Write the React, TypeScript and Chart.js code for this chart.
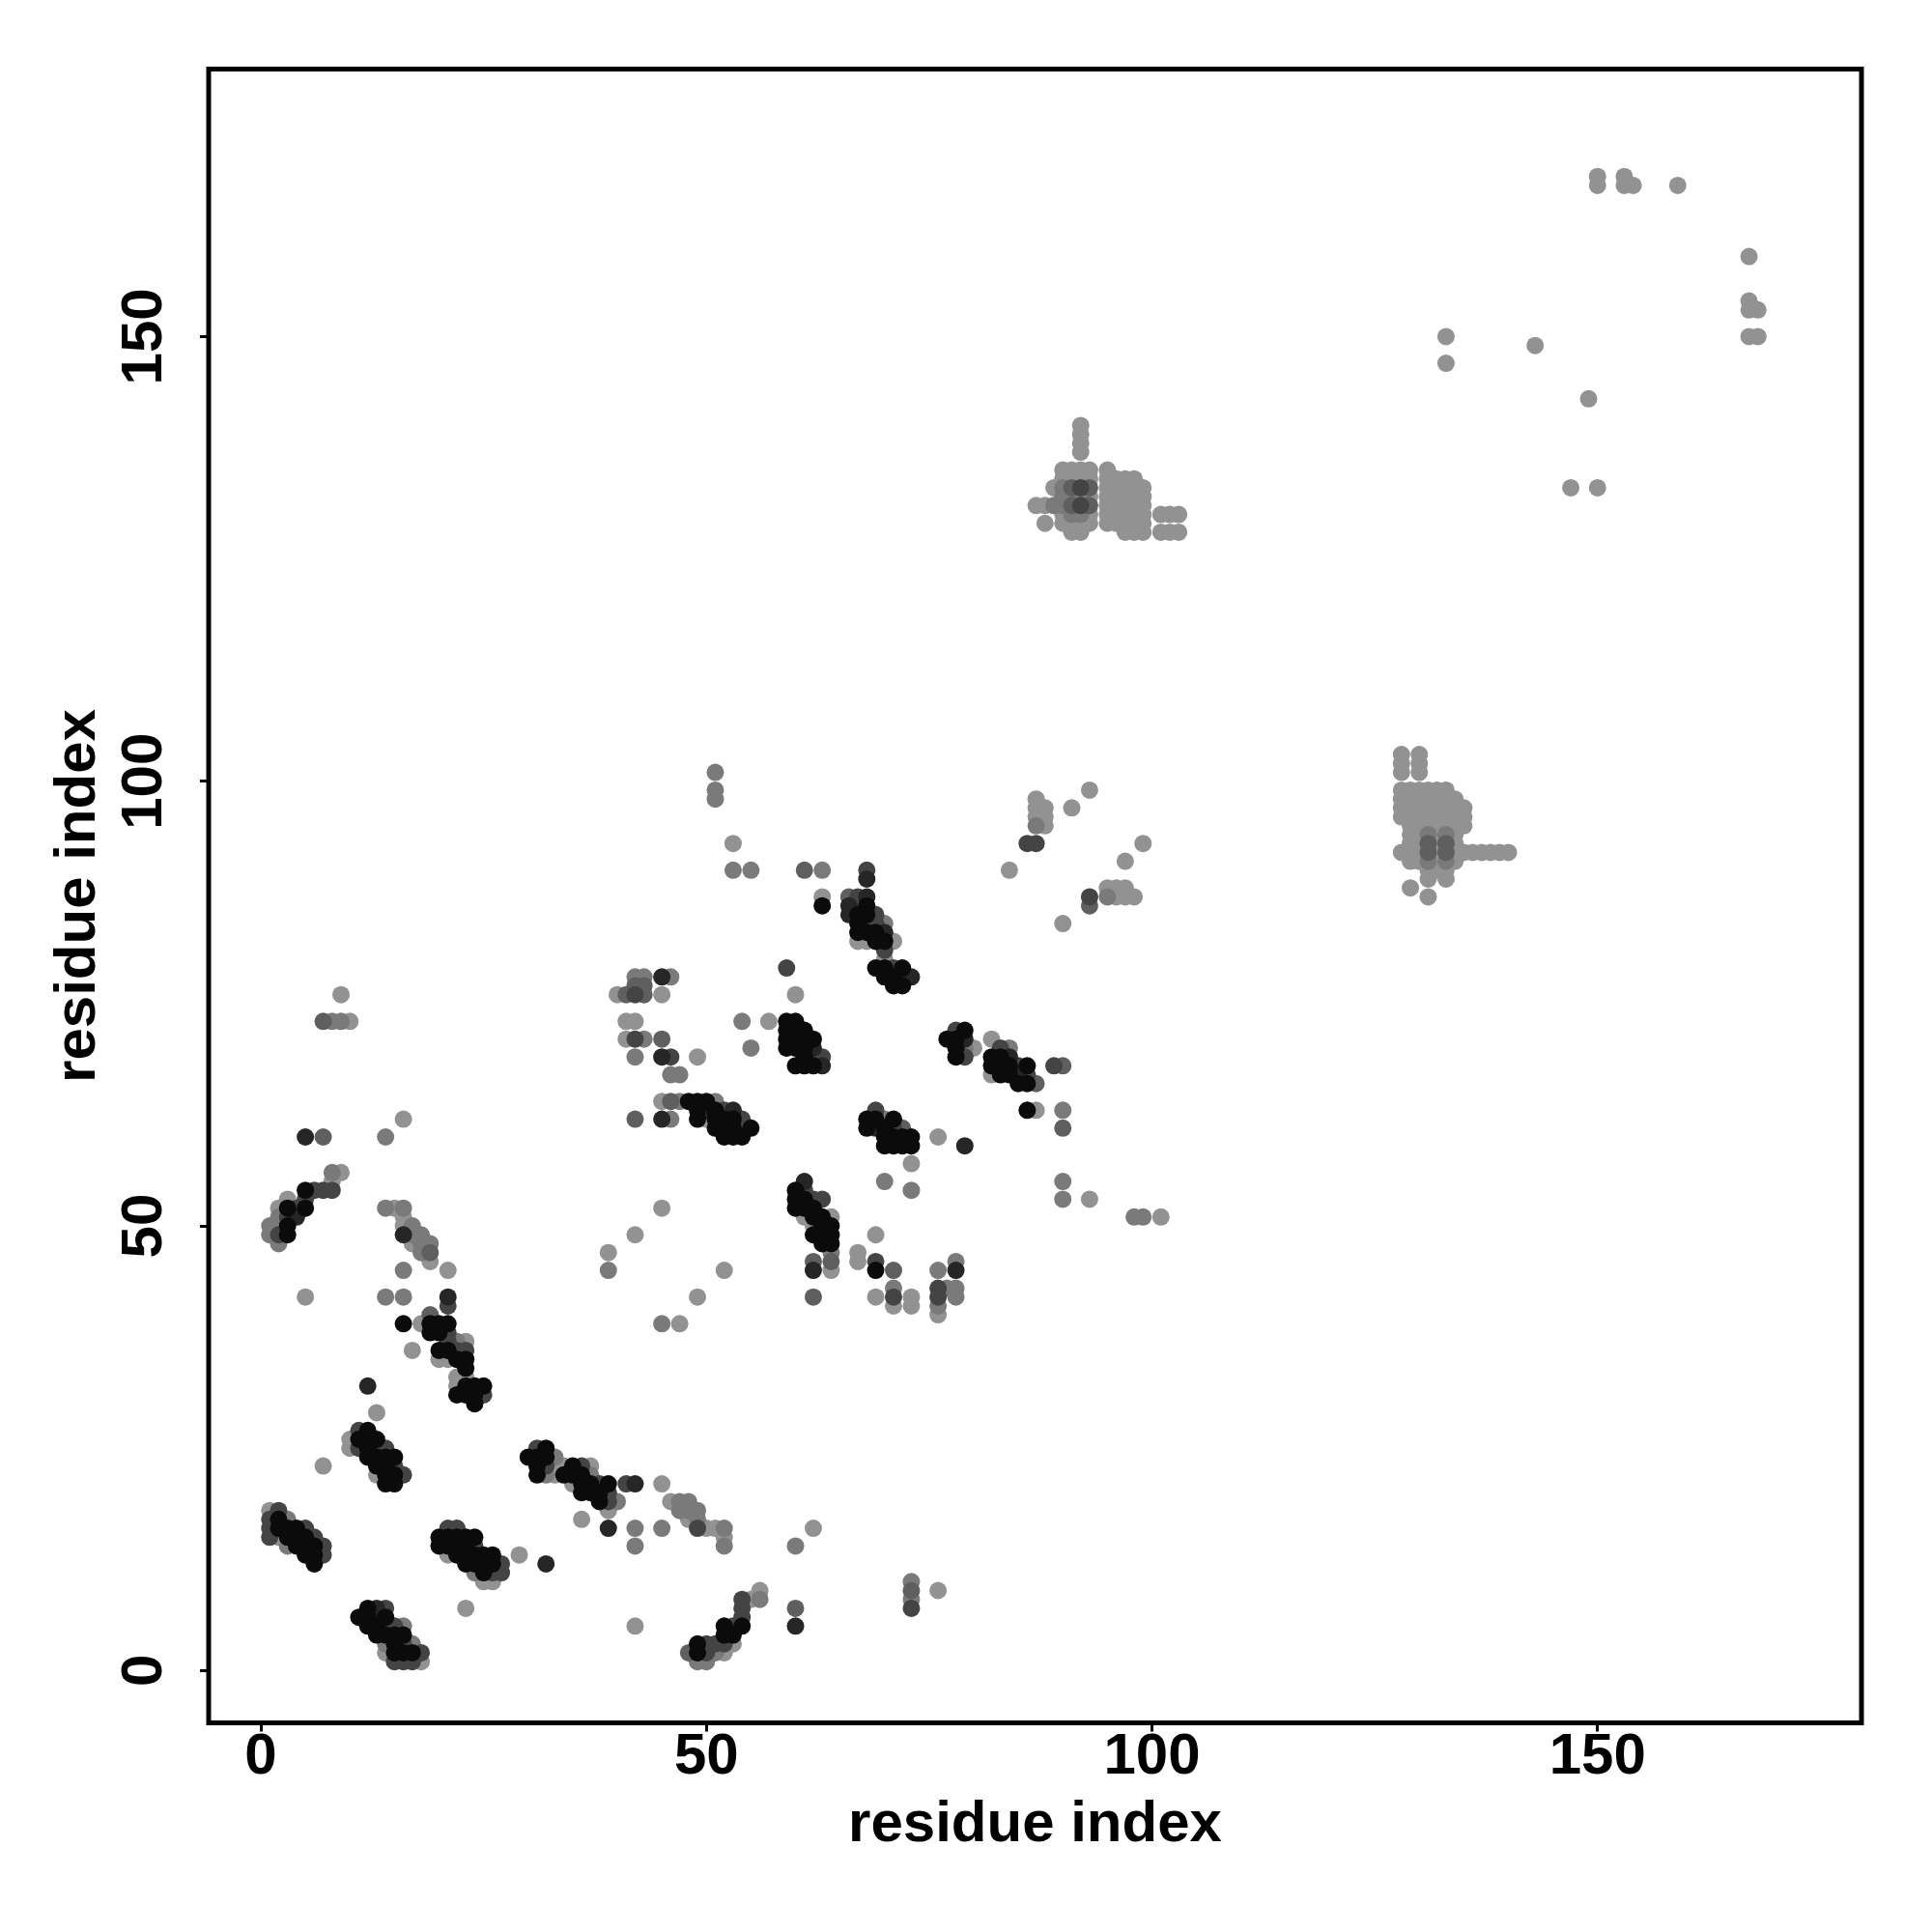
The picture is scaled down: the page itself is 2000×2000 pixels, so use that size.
import { useEffect, useRef } from "react";
import { Chart, registerables } from "chart.js";
Chart.register(...registerables);

type P = [number, number, number]; // [x, y, shade index]

const shadeColors = ["#0b0b0b", "#262626", "#444444", "#5f5f5f", "#7a7a7a", "#929292"];
const xTicks = [0, 50, 100, 150];
const yTicks = [0, 50, 100, 150];
const xMin = -5.854;
const xMax = 179.62;
const yMin = -5.88;
const yMax = 180.08;
const xTitle = "residue index";
const yTitle = "residue index";

const groupUpperLeft: P[] = [
  [9,76,5],[7,73,3],[8,73,4],[9,73,4],[10,73,5],
  [5,60,1],[7,60,3],[14,60,4],[16,62,5],
  [8,56,4],[9,56,5],[8,55,5],
  [5,54,0],[6,54,2],[7,54,2],[8,54,2],[5,53,2],
  [3,53,5],[2,52,5],[3,52,0],[4,52,2],[5,52,0],
  [2,51,4],[3,51,2],[4,51,1],
  [1,50,4],[2,50,5],[3,50,0],
  [1,49,4],[2,49,2],[3,49,0],
  [2,48,4],[5,42,5],
];

const groupB: P[] = [
  [14,52,4],[15,52,5],[16,52,4],[16,51,5],[16,50,5],[16,49,1],[17,50,4],[17,49,4],[17,48,5],
  [18,49,4],[18,48,4],[18,47,4],[19,48,4],[19,47,3],[19,46,5],
  [16,45,4],[21,45,5],[14,42,4],[16,42,4],[21,42,1],[21,41,2],[16,39,0],[17,36,5],
];

const groupC: P[] = [
  [19,40,3],[18,39,5],[19,39,0],[20,39,0],[21,39,0],[19,38,0],[20,38,0],[21,38,2],
  [21,37,2],[22,37,4],[23,37,5],[20,36,0],[21,36,0],[22,36,2],[23,36,2],
  [20,35,5],[21,35,5],[22,35,0],[23,35,0],[23,34,0],
  [22,33,5],[23,33,5],[22,32,5],[23,32,0],[24,32,0],[25,32,0],
  [22,31,0],[23,31,0],[24,31,0],[25,31,2],[24,30,0],[12,32,1],[13,29,5],
];

const groupD: P[] = [
  [7,23,5],[10,26,5],[10,25,5],[11,27,2],[11,26,0],[11,25,2],[12,27,0],[12,26,2],[12,25,0],[12,24,0],
  [13,26,0],[13,25,2],[13,24,0],[13,23,0],[13,22,5],[14,25,2],[14,24,0],[14,23,0],[14,22,0],[14,21,0],
  [15,24,0],[15,23,2],[15,22,0],[15,21,0],[16,22,2],
];

const groupE: P[] = [
  [1,18,5],[1,17,2],[1,16,2],[1,15,2],[2,18,2],[2,17,0],[2,16,0],[2,15,5],[3,17,4],[3,16,0],[3,15,0],[3,14,4],
  [4,16,0],[4,15,0],[4,14,0],[5,16,2],[5,15,0],[5,14,0],[5,13,0],[6,15,2],[6,14,0],[6,13,0],[6,12,0],[7,14,2],[7,13,2],
];

const groupF: P[] = [
  [20,15,0],[20,14,0],[21,16,2],[21,15,0],[21,14,0],[21,13,5],[22,16,2],[22,15,0],[22,14,0],[22,13,0],
  [23,15,0],[23,14,0],[23,13,2],[23,12,0],[24,15,0],[24,14,2],[24,13,0],[24,12,0],[24,11,4],
  [25,13,0],[25,12,2],[25,11,0],[25,10,5],[26,13,0],[26,12,0],[26,11,2],[26,10,5],[27,12,2],[27,11,2],
  [29,13,5],[32,12,1],[23,7,5],
];

const groupG: P[] = [
  [11,6,0],[12,7,0],[12,6,0],[12,5,0],[13,7,1],[13,6,2],[13,5,0],[13,4,0],[14,7,2],[14,6,0],[14,5,2],[14,4,0],[14,3,4],[14,2,5],
  [15,5,2],[15,4,0],[15,3,0],[15,2,0],[15,1,2],[16,5,4],[16,4,0],[16,3,2],[16,2,0],[16,1,2],
  [17,3,4],[17,2,0],[17,1,2],[18,2,2],[18,1,5],
];

const groupH: P[] = [
  [30,24,0],[31,25,2],[31,24,0],[31,23,0],[31,22,0],[32,25,0],[32,24,0],[32,23,2],[32,22,4],
  [33,24,4],[33,23,5],[33,22,5],[34,23,5],[34,22,0],[35,23,0],[35,22,0],[35,21,5],
  [36,23,2],[36,22,0],[36,21,0],[36,20,0],[37,23,5],[37,22,4],[37,21,0],[37,20,0],
  [38,21,2],[38,20,0],[38,19,0],[39,21,0],[39,20,2],[39,19,2],[39,18,5],[40,19,4],[41,21,2],[42,21,1],
  [36,17,5],[39,16,1],[42,16,4],[42,14,4],[45,16,4],[45,21,5],
];

const groupI: P[] = [
  [46,19,5],[47,19,4],[48,19,4],[47,18,4],[48,18,4],[49,18,4],[48,17,5],[49,17,4],[49,16,2],
  [50,16,5],[51,16,5],[52,16,4],[52,15,5],[52,14,4],[62,16,5],[60,14,4],[42,5,5],
];

const groupJ: P[] = [
  [48,2,3],[49,3,0],[49,2,0],[49,1,4],[50,3,2],[50,2,2],[50,1,4],[51,3,2],[51,2,4],
  [52,5,0],[52,4,0],[52,3,2],[52,2,5],[53,5,2],[53,4,0],[53,3,5],
  [54,8,2],[54,7,2],[54,6,2],[54,5,0],[55,8,5],[56,9,5],[56,8,4],[60,7,3],[60,5,1],
  [73,10,4],[73,9,3],[73,8,4],[73,7,2],[76,9,5],
];

const groupL: P[] = [
  [46,67,4],[47,67,4],
  [45,64,5],[46,64,3],[47,64,4],[48,64,0],[49,64,0],[50,64,0],[51,64,4],
  [49,63,0],[50,63,1],[51,63,0],[52,63,2],[53,63,1],
  [42,62,3],[45,62,1],[46,62,4],[49,62,0],[50,62,5],[51,62,0],[52,62,0],[53,62,0],[54,62,2],
  [51,61,0],[52,61,0],[53,61,0],[54,61,2],[55,61,0],[52,60,0],[53,60,0],[54,60,0],
  [45,52,5],[42,49,5],[39,47,5],[39,45,4],[52,45,5],[49,42,5],[45,39,4],[47,39,5],
];

const groupM: P[] = [
  [59,73,0],[60,73,0],[59,72,0],[60,72,2],[61,72,0],[59,71,0],[60,71,0],[61,71,2],[62,71,0],
  [59,70,0],[60,70,0],[61,70,0],[62,70,1],[61,69,0],[62,69,2],[63,69,2],
  [60,68,0],[61,68,0],[62,68,0],[63,68,1],
];

const groupN: P[] = [
  [61,55,1],[60,54,0],[61,54,2],[60,53,0],[61,53,0],[62,53,2],[63,53,2],[60,52,0],[61,52,0],[62,52,0],
  [61,51,5],[62,51,0],[63,51,0],[64,51,5],[62,50,5],[63,50,0],[64,50,0],[62,49,0],[63,49,0],[64,49,0],
  [63,48,0],[64,48,0],[64,47,4],[64,46,3],[64,45,5],[62,46,3],[62,45,1],[62,42,3],
  [67,47,5],[67,46,5],[69,49,5],[69,46,2],[69,45,0],[71,45,3],[71,43,4],[71,42,2],[71,41,5],
  [69,42,5],[73,42,5],[73,41,5],
  [76,45,4],[76,43,2],[76,42,2],[77,43,4],[78,46,4],[78,45,1],[78,43,4],[78,42,4],[76,41,4],[76,40,5],
];

const groupO: P[] = [
  [68,62,0],[68,61,0],[69,63,2],[69,62,0],[69,61,1],[70,62,4],[70,61,0],[70,60,0],[70,59,0],
  [71,62,0],[71,61,2],[71,60,0],[71,59,0],[72,61,3],[72,60,0],[72,59,0],[73,60,0],[73,59,0],
  [73,57,5],[76,60,5],[79,59,1],[70,55,4],[73,54,4],[90,55,4],[90,53,4],[93,53,5],
  [98,51,4],[99,51,4],[101,51,5],[86,63,0],[87,63,5],[90,63,4],[90,61,3],
];

const groupP: P[] = [
  [77,71,0],[78,72,2],[79,72,0],[78,71,0],[79,71,1],[78,70,0],[79,70,4],[80,70,5],[78,69,0],[79,69,2],
  [82,71,5],[83,70,2],[84,70,4],[82,69,0],[83,69,0],[84,69,1],[82,68,0],[83,68,0],[84,68,0],[85,68,2],[86,68,0],
  [82,67,5],[83,67,0],[84,67,0],[85,67,1],[86,67,2],[85,66,0],[86,66,0],[87,66,3],[89,68,2],[90,68,3],
];

const groupR: P[] = [
  [66,87,3],[67,87,2],[67,86,2],[68,86,0],[68,87,1],[66,86,1],[66,85,1],[67,85,0],[68,85,0],[67,84,0],
  [68,84,2],[69,85,2],[69,84,2],[70,84,4],[68,83,0],[69,83,0],[70,83,1],[67,83,0],[67,82,5],[68,82,5],
  [69,82,0],[70,82,0],[71,82,5],[70,81,2],[70,80,5],[69,79,0],[70,79,0],[71,79,2],[72,79,0],
  [70,78,0],[71,78,0],[72,78,2],[73,78,1],[71,77,0],[72,77,0],
  [68,90,2],[68,89,1],[63,87,5],[63,86,0],[61,90,3],[63,90,4],[53,93,5],[53,90,4],[55,90,4],
  [51,101,4],[51,99,4],[51,98,4],[59,79,2],[60,76,5],[54,73,4],[57,73,5],[55,70,4],
];

const groupS: P[] = [
  [42,78,4],[43,78,4],[45,78,1],[46,78,4],[42,77,3],[43,77,3],[40,76,5],[41,76,3],[42,76,2],[43,76,3],[45,76,5],
  [41,73,5],[42,73,5],[41,71,5],[42,71,2],[43,71,4],[45,71,3],[42,69,4],[45,69,1],[46,69,2],[49,69,5],
];

const groupT: P[] = [
  [93,99,5],[87,98,5],[87,97,5],[87,96,5],[87,95,4],[88,97,5],[88,96,5],[88,95,5],[91,97,5],
  [86,93,2],[87,93,2],[99,93,5],[97,91,5],[84,90,5],[95,88,5],[96,88,5],[97,88,5],
  [95,87,4],[96,87,5],[97,87,5],[98,87,5],[93,87,2],[93,86,3],[90,84,5],
];

const groupUpper: P[] = [
  [92,140,5],[92,139,5],[92,138,5],[92,137,5],
  [87,131,5],[88,131,5],[88,129,5],[89,133,5],[89,131,4],
  [90,135,5],[90,134,5],[90,133,4],[90,132,4],[90,131,4],[90,130,5],[90,129,5],
  [91,135,5],[91,134,5],[91,133,3],[91,132,4],[91,131,3],[91,130,4],[91,129,5],[91,128,5],
  [92,135,5],[92,134,5],[92,133,2],[92,132,4],[92,131,2],[92,130,4],[92,129,5],[92,128,5],
  [93,135,5],[93,134,5],[93,133,3],[93,132,5],[93,131,3],[93,130,5],[93,129,5],
  [95,135,5],[95,134,5],[95,133,5],[95,132,5],[95,131,5],[95,130,5],[95,129,5],
  [96,134,5],[96,133,5],[96,132,5],[96,131,5],[96,130,5],[96,129,5],
  [97,134,5],[97,133,5],[97,132,5],[97,131,5],[97,130,5],[97,129,5],[97,128,5],
  [98,134,5],[98,133,5],[98,132,5],[98,131,5],[98,130,5],[98,129,5],[98,128,5],
  [99,133,5],[99,132,5],[99,131,5],[99,130,5],[99,129,5],[99,128,5],
  [101,130,5],[102,130,5],[103,130,5],[101,128,5],[102,128,5],[103,128,5],
];

const groupRight: P[] = [
  [128,103,5],[128,102,5],[128,101,5],[128,99,5],[128,98,5],[128,97,5],[128,96,5],[128,92,5],
  [129,99,5],[129,98,5],[129,97,5],[129,96,5],[129,95,5],[129,94,5],[129,93,5],[129,92,5],[129,91,5],[129,88,5],
  [130,103,5],[130,102,5],[130,101,5],[130,99,5],[130,98,5],[130,97,5],[130,96,5],[130,95,5],[130,94,5],[130,93,5],[130,92,5],[130,91,5],
  [131,99,5],[131,98,5],[131,97,5],[131,96,5],[131,95,5],[131,94,4],[131,93,3],[131,92,3],[131,91,4],[131,90,5],[131,89,5],[131,87,5],
  [132,99,5],[132,98,5],[132,97,5],[132,96,5],[132,95,5],[132,94,5],[132,93,5],[132,92,5],[132,91,5],[132,90,5],
  [133,99,5],[133,98,5],[133,97,5],[133,96,5],[133,95,5],[133,94,4],[133,93,3],[133,92,3],[133,91,4],[133,90,5],[133,89,5],
  [134,98,5],[134,97,5],[134,96,5],[134,95,5],[134,94,5],[134,93,5],[134,92,5],[134,91,5],
  [135,97,5],[135,96,5],[135,95,5],[135,92,5],
  [136,92,5],[137,92,5],[138,92,5],[139,92,5],[140,92,5],
];

const groupTopRight: P[] = [
  [133,150,5],[133,147,5],[143,149,5],[149,143,5],[147,133,5],[150,133,5],
  [150,168,5],[150,167,5],[153,168,5],[153,167,5],[154,167,5],[159,167,5],
  [167,159,5],[167,154,5],[167,153,5],[168,153,5],[167,150,5],[168,150,5],
];

const allGroups: P[][] = [
  groupUpperLeft, groupB, groupC, groupD, groupE, groupF, groupG, groupH, groupI, groupJ,
  groupL, groupM, groupN, groupO, groupP, groupR, groupS, groupT, groupUpper, groupRight, groupTopRight,
];

export default function App() {
  const ref = useRef<HTMLCanvasElement>(null);

  useEffect(() => {
    if (!ref.current) return;
    const all = allGroups.flat();
    const datasets = shadeColors.map((color, s) => ({
      label: `shade ${s}`,
      data: all.filter((p) => p[2] === s).map((p) => ({ x: p[0], y: p[1] })),
      backgroundColor: color,
      borderWidth: 0,
      pointRadius: 9,
      pointHoverRadius: 9,
    }));

    const frame = {
      id: "frame",
      afterDatasetsDraw(chart: any) {
        const { ctx, chartArea: a } = chart;
        ctx.save();
        ctx.lineWidth = 5;
        ctx.strokeStyle = "#000";
        ctx.strokeRect(a.left, a.top, a.right - a.left, a.bottom - a.top);
        ctx.restore();
      },
    };

    const font = { family: "'Liberation Sans', Arial, sans-serif", size: 60, weight: "bold" as const, lineHeight: 1 };

    const chart = new Chart(ref.current, {
      type: "scatter",
      data: { datasets },
      options: {
        animation: false,
        responsive: false,
        devicePixelRatio: 1,
        events: [],
        layout: { padding: { top: 71.5, right: 73, left: 0, bottom: 0 } },
        plugins: { legend: { display: false }, tooltip: { enabled: false } },
        scales: {
          x: {
            type: "linear",
            position: "bottom",
            min: xMin,
            max: xMax,
            afterBuildTicks: (s: any) => { s.ticks = xTicks.map((v) => ({ value: v })); },
            afterFit: (s: any) => { s.height = 216.5; },
            ticks: { font, color: "#000", padding: -3, maxRotation: 0, autoSkip: false },
            grid: { display: true, drawOnChartArea: false, drawTicks: true, tickLength: 9, tickWidth: 3, tickColor: "#000" },
            border: { display: false },
            title: { display: true, text: xTitle, font, color: "#000", padding: { top: 0, bottom: 81 } },
          },
          y: {
            type: "linear",
            position: "left",
            min: yMin,
            max: yMax,
            afterBuildTicks: (s: any) => { s.ticks = yTicks.map((v) => ({ value: v })); },
            afterFit: (s: any) => { s.width = 216; },
            ticks: { font, color: "#000", padding: 6, minRotation: 90, maxRotation: 90, crossAlign: "center", autoSkip: false },
            grid: { display: true, drawOnChartArea: false, drawTicks: true, tickLength: 9, tickWidth: 3, tickColor: "#000" },
            border: { display: false },
            title: { display: true, text: yTitle, font, color: "#000", padding: { top: 51, bottom: 0 } },
          },
        },
      },
      plugins: [frame],
    } as any);

    return () => chart.destroy();
  }, []);

  return (
    <canvas
      ref={ref}
      width={2000}
      height={2000}
      style={{ position: "absolute", left: 0, top: 0, width: 2000, height: 2000, background: "#fff" }}
    />
  );
}
